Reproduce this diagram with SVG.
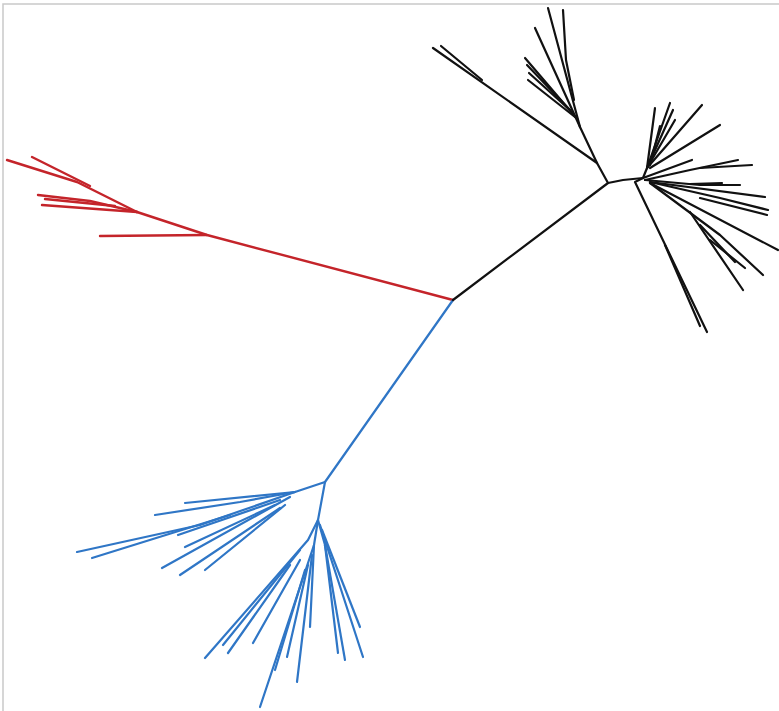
<svg xmlns="http://www.w3.org/2000/svg" width="779" height="711" viewBox="0 0 779 711">
<style>
.b{fill:none;stroke-linecap:round;stroke-linejoin:round}
.red{stroke:#c4242a;stroke-width:2.4}
.blue{stroke:#2f76c6;stroke-width:2.2}
.blk{stroke:#111;stroke-width:2.2}
.frame{fill:none;stroke:#c9c9c9;stroke-width:1.5}
</style>
<rect width="779" height="711" fill="#fff"/>
<path class="frame" d="M3,711 L3,4 L779,4"/>
<g id="connectors">
<g id="clade-red" class="b red">
<path d="M453,300 L207,235 L137,212"/>
<path d="M207,235 L100,236"/>
<path d="M137,212 L77,182 L7,160"/>
<path d="M90,186 L32,157"/>
<path d="M137,212 L90,201 L38,195"/>
<path d="M137,212 L42,205"/>
<path d="M115,206 L45,199"/>
</g>
<g id="clade-blue" class="b blue">
<path d="M453,300 L325,482"/>
<path d="M325,482 L295,492"/>
<path d="M295,492 L185,503"/>
<path d="M295,492 L240,502 L155,515"/>
<path d="M295,492 L200,525 L77,552"/>
<path d="M230,515 L92,558"/>
<path d="M280,500 L178,535"/>
<path d="M275,505 L185,547"/>
<path d="M290,497 L162,568"/>
<path d="M280,508 L180,575"/>
<path d="M285,505 L205,570"/>
<path d="M325,482 L318,520"/>
<path d="M318,520 L308,540 L205,658"/>
<path d="M300,550 L223,645"/>
<path d="M290,565 L228,653"/>
<path d="M300,560 L253,643"/>
<path d="M318,520 L314,545 L260,707"/>
<path d="M305,570 L275,670"/>
<path d="M308,565 L287,657"/>
<path d="M312,555 L297,682"/>
<path d="M314,545 L310,627"/>
<path d="M318,520 L325,545 L338,653"/>
<path d="M325,545 L345,660"/>
<path d="M320,525 L363,657"/>
<path d="M322,530 L360,627"/>
</g>
<g id="clade-black" class="b blk">
<path d="M453,300 L608,183 L597,163 L580,127"/>
<path d="M597,163 L433,48"/>
<path d="M482,80 L441,46"/>
<path d="M580,127 L548,8"/>
<path d="M574,100 L566,60 L563,10"/>
<path d="M580,127 L535,28"/>
<path d="M578,120 L525,58"/>
<path d="M570,110 L527,65"/>
<path d="M572,112 L529,73"/>
<path d="M575,117 L528,80"/>
<path d="M608,183 L623,180 L643,178"/>
<path d="M643,178 L647,168 L655,108"/>
<path d="M647,168 L670,103"/>
<path d="M647,168 L673,110"/>
<path d="M647,168 L675,120"/>
<path d="M650,165 L660,126"/>
<path d="M647,168 L702,105"/>
<path d="M650,168 L720,125"/>
<path d="M643,178 L692,160"/>
<path d="M645,180 L690,170 L738,160"/>
<path d="M700,168 L752,165"/>
<path d="M645,180 L700,185 L740,185"/>
<path d="M690,184 L722,183"/>
<path d="M650,182 L765,197"/>
<path d="M650,182 L720,198 L768,210"/>
<path d="M700,198 L767,215"/>
<path d="M650,183 L778,250"/>
<path d="M650,183 L720,235 L763,275"/>
<path d="M690,212 L743,290"/>
<path d="M700,225 L735,262"/>
<path d="M710,240 L745,268"/>
<path d="M643,178 L635,182 L707,332"/>
<path d="M665,245 L700,326"/>
</g>
</g>
</svg>
